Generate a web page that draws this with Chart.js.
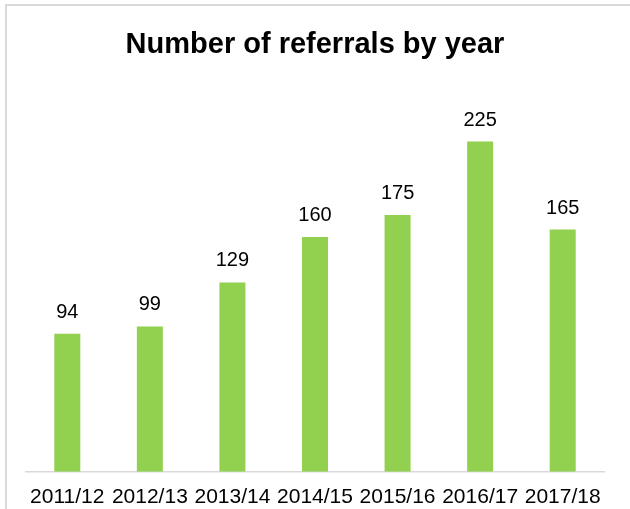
<!DOCTYPE html>
<html>
<head>
<meta charset="utf-8">
<script src="https://cdn.jsdelivr.net/npm/chart.js@4/dist/chart.umd.min.js"></script>
<style>
  html, body { margin: 0; padding: 0; background: #fff; overflow: hidden; }
  #wrap { position: relative; width: 630px; height: 509px; }
  #frame {
    position: absolute; left: 5px; top: 4px; width: 640px; height: 520px;
    border-top: 2px solid #d9d9d9; border-left: 2px solid #d9d9d9;
    pointer-events: none;
  }
  canvas { position: absolute; left: 0; top: 0; }
</style>
</head>
<body>
<div id="wrap">
  <canvas id="referralsChart" width="630" height="509"></canvas>
  <div id="frame"></div>
</div>
<script>
// Referrals per financial year
const years = ["2011/12", "2012/13", "2013/14", "2014/15", "2015/16", "2016/17", "2017/18"];
const referrals = [94, 99, 129, 160, 175, 225, 165];

const FONT = "'Liberation Sans', Arial, sans-serif";

// Draw the value above each bar
const valueLabels = {
  id: "valueLabels",
  afterDatasetsDraw(chart) {
    const ctx = chart.ctx;
    const meta = chart.getDatasetMeta(0);
    ctx.save();
    ctx.font = "20px " + FONT;
    ctx.fillStyle = "#000";
    ctx.textAlign = "center";
    ctx.textBaseline = "alphabetic";
    meta.data.forEach((bar, i) => {
      ctx.fillText(chart.data.datasets[0].data[i], bar.x, bar.y - 16);
    });
    ctx.restore();
  },
};

const ctx = document.getElementById("referralsChart").getContext("2d");

new Chart(ctx, {
  type: "bar",
  data: {
    labels: years,
    datasets: [
      {
        label: "Referrals",
        data: referrals,
        backgroundColor: "#92d050",
        borderWidth: 0,
        barPercentage: 0.315,
        categoryPercentage: 1,
      },
    ],
  },
  options: {
    responsive: false,
    animation: false,
    layout: { padding: { left: 26, right: 26, top: 0, bottom: -14 } },
    plugins: {
      legend: { display: false },
      tooltip: { enabled: false },
      title: {
        display: true,
        text: "Number of referrals by year",
        color: "#000",
        font: { family: FONT, size: 29, weight: "bold" },
        padding: { top: 28, bottom: 42 },
      },
    },
    scales: {
      x: {
        grid: { display: false, drawTicks: false },
        border: { display: true, color: "#d9d9d9", width: 1.5 },
        ticks: {
          color: "#000",
          font: { family: FONT, size: 21 },
          padding: 13,
          autoSkip: false,
          maxRotation: 0,
        },
      },
      y: {
        display: false,
        min: 0,
        max: 250,
      },
    },
  },
  plugins: [valueLabels],
});
</script>
</body>
</html>
